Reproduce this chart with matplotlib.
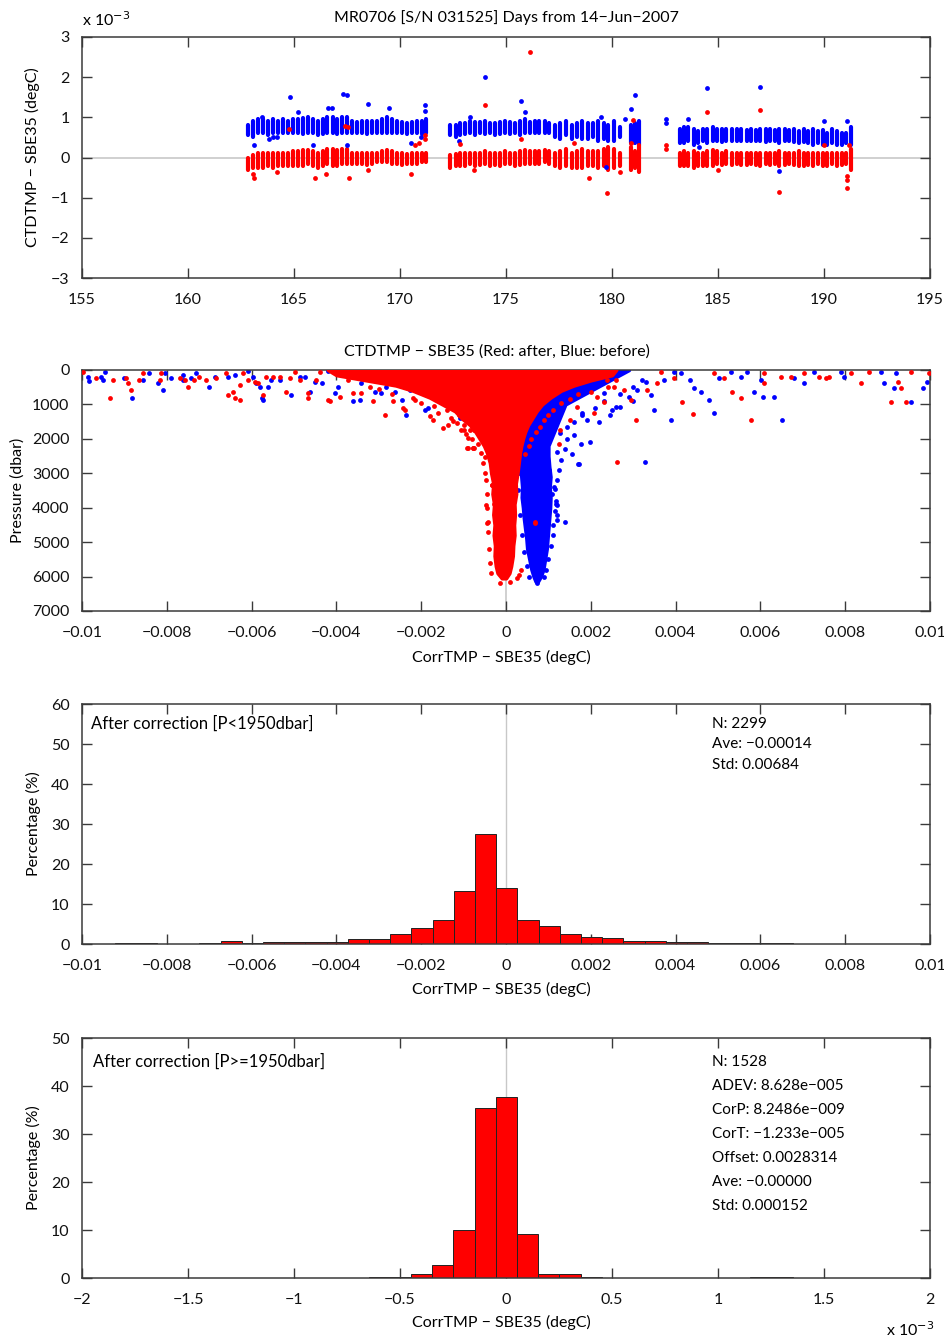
import numpy as np
import matplotlib
matplotlib.use('Agg')
import matplotlib.pyplot as plt

plt.rcParams['font.family'] = ['Lato', 'DejaVu Sans']
plt.rcParams['font.size'] = 11.5
plt.rcParams['axes.unicode_minus'] = True

RED = '#ff0000'
BLUE = '#0000ff'
AXC = '#3a3a3a'

# ---------------- Panel 1: station time series (units of 1e-3 degC) ----------------
days = [162.85, 163.08, 163.32, 163.55, 163.78, 164.02, 164.25, 164.48, 164.72, 164.95,
        165.18, 165.42, 165.65, 165.88, 166.12, 166.35, 166.58, 166.82, 167.05, 167.28,
        167.52, 167.75, 167.98, 168.22, 168.45, 168.68, 168.92, 169.15, 169.38, 169.62,
        169.85, 170.08, 170.32, 170.55, 170.78, 171.02, 171.22,
        172.38, 172.62, 172.85, 173.08, 173.32, 173.55, 173.78, 174.02, 174.25, 174.48,
        174.72, 174.95, 175.18, 175.42, 175.65, 175.88, 176.12, 176.35, 176.58, 176.82,
        177.05, 177.3, 177.55, 177.85, 178.1, 178.35, 178.6, 178.85, 179.1, 179.35,
        179.6, 179.8, 180.1, 180.4, 180.9, 181.1, 181.25,
        183.2, 183.4, 183.6, 183.85, 184.05, 184.3, 184.5, 184.75, 184.95, 185.2,
        185.4, 185.65, 185.9, 186.1, 186.35, 186.55, 186.8, 187.0, 187.25, 187.45,
        187.7, 187.9, 188.15, 188.35, 188.6, 188.8, 189.05, 189.25, 189.5, 189.7,
        189.95, 190.15, 190.4, 190.6, 190.85, 191.05, 191.25]
before_lo = [0.55, 0.5, 0.6, 0.6, 0.55, 0.6, 0.6, 0.6, 0.6, 0.62, 0.6, 0.58, 0.6, 0.6, 0.55, 0.58, 0.6, 0.6, 0.58, 0.6,
             0.62, 0.62, 0.6, 0.6, 0.58, 0.6, 0.62, 0.62, 0.6, 0.62, 0.6, 0.6, 0.58, 0.6, 0.6, 0.58, 0.6,
             0.55, 0.52, 0.55, 0.58, 0.6, 0.55, 0.6, 0.58, 0.6, 0.55, 0.58, 0.6, 0.58, 0.6, 0.55, 0.6, 0.62, 0.6, 0.6, 0.6,
             0.62, 0.5, 0.45, 0.55, 0.45, 0.5, 0.45, 0.45, 0.5, 0.42, 0.45, 0.4, 0.4, 0.5, 0.35, 0.35, 0.3,
             0.35, 0.35, 0.4, 0.3, 0.35, 0.4, 0.35, 0.4, 0.4, 0.38, 0.4, 0.4, 0.42, 0.4, 0.4, 0.42, 0.4, 0.4, 0.38, 0.4,
             0.4, 0.35, 0.4, 0.4, 0.38, 0.35, 0.38, 0.35, 0.3, 0.35, 0.3, 0.3, 0.35, 0.3, 0.32, 0.35, 0.3]
before_hi = [0.8, 0.9, 0.95, 0.95, 0.9, 0.95, 0.9, 0.95, 0.9, 0.95, 0.95, 0.98, 1.0, 0.95, 0.9, 0.95, 1.0, 1.0, 0.95, 1.0,
             1.0, 0.9, 0.88, 0.9, 0.9, 0.92, 0.9, 0.95, 1.0, 0.95, 0.9, 0.88, 0.85, 0.88, 0.9, 0.9, 0.95,
             0.8, 0.82, 0.85, 0.85, 0.9, 0.88, 0.88, 0.9, 0.85, 0.85, 0.88, 0.9, 0.88, 0.85, 0.92, 0.95, 0.88, 0.9, 0.9, 0.9,
             0.85, 0.8, 0.85, 0.9, 0.8, 0.85, 0.9, 0.85, 0.85, 0.9, 0.85, 0.8, 0.9, 0.75, 0.8, 0.85, 0.9,
             0.7, 0.75, 0.75, 0.72, 0.65, 0.7, 0.72, 0.75, 0.72, 0.7, 0.72, 0.7, 0.72, 0.7, 0.68, 0.7, 0.68, 0.72, 0.7, 0.7,
             0.68, 0.72, 0.7, 0.68, 0.7, 0.65, 0.7, 0.65, 0.7, 0.65, 0.68, 0.62, 0.7, 0.65, 0.62, 0.6, 0.75]
after_lo = [-0.3, -0.25, -0.25, -0.25, -0.22, -0.25, -0.2, -0.2, -0.2, -0.2, -0.22, -0.2, -0.15, -0.2, -0.25, -0.2, -0.15, -0.2, -0.2, -0.15,
            -0.15, -0.15, -0.15, -0.15, -0.18, -0.15, -0.12, -0.12, -0.1, -0.15, -0.15, -0.18, -0.15, -0.15, -0.15, -0.12, -0.12,
            -0.25, -0.22, -0.2, -0.2, -0.15, -0.2, -0.18, -0.15, -0.2, -0.18, -0.2, -0.15, -0.15, -0.2, -0.18, -0.15, -0.15, -0.15, -0.15, -0.12,
            -0.15, -0.2, -0.25, -0.2, -0.25, -0.25, -0.25, -0.2, -0.2, -0.25, -0.2, -0.3, -0.25, -0.2, -0.3, -0.25, -0.35,
            -0.2, -0.22, -0.2, -0.25, -0.2, -0.2, -0.22, -0.2, -0.15, -0.18, -0.15, -0.18, -0.15, -0.18, -0.18, -0.15, -0.18, -0.2, -0.15, -0.18,
            -0.15, -0.2, -0.18, -0.15, -0.18, -0.2, -0.2, -0.18, -0.2, -0.15, -0.2, -0.2, -0.15, -0.2, -0.18, -0.15, -0.3]
after_hi = [0.0, 0.05, 0.1, 0.12, 0.1, 0.1, 0.12, 0.12, 0.1, 0.15, 0.15, 0.18, 0.18, 0.15, 0.1, 0.15, 0.2, 0.22, 0.18, 0.2,
            0.22, 0.12, 0.1, 0.1, 0.1, 0.12, 0.1, 0.15, 0.18, 0.15, 0.12, 0.1, 0.08, 0.1, 0.1, 0.1, 0.12,
            0.05, 0.08, 0.1, 0.1, 0.12, 0.1, 0.12, 0.15, 0.12, 0.1, 0.12, 0.15, 0.12, 0.12, 0.15, 0.18, 0.15, 0.15, 0.15, 0.18,
            0.15, 0.1, 0.15, 0.2, 0.12, 0.15, 0.2, 0.15, 0.15, 0.15, 0.2, 0.25, 0.2, 0.1, 0.25, 0.15, 0.3,
            0.1, 0.15, 0.12, 0.15, 0.1, 0.12, 0.15, 0.18, 0.15, 0.12, 0.15, 0.12, 0.12, 0.1, 0.12, 0.12, 0.1, 0.12, 0.1, 0.12,
            0.12, 0.15, 0.1, 0.1, 0.12, 0.15, 0.12, 0.1, 0.1, 0.12, 0.12, 0.1, 0.1, 0.12, 0.1, 0.1, 0.2]
before_out_day = [164.8, 167.3, 167.5, 168.5, 169.5, 171.2, 171.2, 166.6, 166.8, 165.2, 163.1, 170.5, 171.0, 165.9,
                  167.5, 163.5, 164.2, 164.0, 163.8, 174.0, 175.7, 175.9, 181.1, 180.9, 182.55, 182.55, 184.5,
                  187.0, 179.7, 187.9, 191.1, 172.8, 173.3, 179.5, 180.6, 184.1, 183.6, 190.0]
before_out_val = [1.5, 1.58, 1.55, 1.33, 1.22, 1.3, 1.15, 1.22, 1.22, 1.13, 0.3, 0.35, 0.5, 0.3,
                  0.3, 1.0, 0.5, 0.5, 0.45, 2.0, 1.4, 1.13, 1.55, 1.2, 0.95, 0.85, 1.72,
                  1.75, -0.24, -0.33, 0.9, 0.4, 1.0, 1.0, 0.95, 0.25, 0.95, 0.9]
after_out_day = [176.15, 174.0, 184.5, 187.0, 179.75, 178.9, 187.9, 191.1, 191.1, 191.1, 191.2, 164.75, 167.4,
                 167.55, 163.1, 166.0, 167.6, 170.5, 171.2, 171.2, 170.9, 170.7, 172.83, 182.55, 182.55, 181.0,
                 180.9, 175.7, 163.05, 164.2, 166.5, 168.5, 173.5, 178.2, 180.4, 185.0, 190.0]
after_out_val = [2.63, 1.31, 1.13, 1.18, -0.88, -0.52, -0.85, -0.75, -0.55, -0.45, 0.3, 0.7, 0.78,
                 0.75, -0.52, -0.5, -0.5, -0.42, 0.46, 0.56, 0.35, 0.3, 0.34, 0.3, 0.2, 0.94,
                 0.35, 0.45, -0.4, -0.35, -0.4, -0.3, -0.3, 0.35, -0.35, -0.3, 0.3]

# ---------------- Panel 2: difference vs pressure (units of 1e-3 degC, dbar) ----------------
after_core_p = [0, 150, 300, 450, 600, 800, 1000, 1200, 1400, 1600, 1800, 2000, 2200, 2400, 2700,
                3000, 3300, 3600, 3900, 4200, 4500, 4800, 5100, 5400, 5700, 5900, 6050]
after_core_left = [-4.2, -4.0, -3.3, -2.6, -2.2, -1.8, -1.5, -1.2, -1.05, -0.85, -0.72, -0.62, -0.52, -0.45, -0.38,
                   -0.35, -0.3, -0.32, -0.28, -0.3, -0.27, -0.29, -0.26, -0.27, -0.24, -0.2, -0.1]
after_core_right = [2.6, 2.5, 2.0, 1.6, 1.3, 1.05, 0.85, 0.72, 0.62, 0.52, 0.45, 0.4, 0.36, 0.33, 0.3,
                    0.27, 0.23, 0.24, 0.2, 0.21, 0.19, 0.2, 0.17, 0.16, 0.12, 0.08, 0.0]
before_core_p = [0, 200, 400, 600, 800, 1000, 1300, 1600, 1900, 2200, 2500, 2800, 3100, 3400, 3700, 4000,
                 4300, 4600, 4900, 5200, 5500, 5800, 6000, 6150]
before_core_left = [-1.0, -0.5, -0.2, 0.0, 0.1, 0.2, 0.25, 0.3, 0.35, 0.38, 0.33, 0.35, 0.36, 0.38, 0.37, 0.4,
                    0.42, 0.45, 0.48, 0.5, 0.55, 0.6, 0.65, 0.7]
before_core_right = [2.9, 2.6, 2.3, 2.0, 1.7, 1.4, 1.3, 1.2, 1.1, 1.0, 1.0, 1.02, 1.05, 1.03, 1.05, 1.04,
                     1.02, 1.0, 0.98, 0.96, 0.92, 0.88, 0.82, 0.75]
before_pts_x = [-9.87, -9.83, -9.55, -9.51, -9.45, -9.0, -8.82, -8.57, -8.41, -8.21, -8.08, -8.04, -7.9, -7.62,
                -7.61, -7.43, -7.31, -7.01, -6.87, -6.56, -6.39, -6.09, -5.97, -5.89, -5.81, -5.76, -5.73, -5.61,
                -5.54, -5.34, -5.06, -4.87, -4.75, -4.63, -4.51, -4.35, -4.2, -4.04, -3.96, -3.61, -3.45, -3.41,
                -3.29, -3.09, -2.94, -2.82, -2.62, -2.46, -2.36, -2.27, -2.03, -1.91, -1.83, -1.72, -1.09,
                9.94, 9.83, 9.55, 9.16, 8.92, 9.2, 8.84, 7.9, 7.98, 7.27, 7.03, 6.8, 6.52, 6.31, 6.05, 5.85, 6.01,
                5.69, 5.54, 5.3, 5.02, 4.79, 4.91, 4.59, 4.43, 4.35, 4.12, 3.96, 3.88, 3.72, 3.49, 3.41, 3.29,
                3.21, 3.09, 2.9, 2.7, 2.5, 2.31, 1.99, 1.91, 1.76, 1.69, 1.56, 1.44, 1.28, 1.2, 1.4, 1.2, 1.17,
                1.13, 1.01, 0.98, 0.93, 0.72, 1.71, 1.2, 1.2, 1.08, 2.45, 2.6, 3.0, 2.2, 1.6, 1.8,
                1.3, 1.25, 1.2, 1.15, 1.18, 1.15, 1.12, 1.1, 1.05, 1.0, 0.95, 0.9, 1.6, 1.8, 2.1, 2.3, 2.7,
                3.0, 3.3, 1.45, 1.4, 0.3, 0.28, 0.32, 0.38, 0.42, 0.5, 0.55]
before_pts_p = [190, 310, 190, 290, 50, 240, 800, 290, 100, 385, 580, 100, 240, 145,
                290, 240, 80, 480, 190, 190, 145, 20, 190, 385, 480, 820, 880, 480,
                290, 290, 720, 190, 190, 625, 340, 385, 20, 670, 480, 890, 865, 385,
                50, 625, 670, 480, 625, 865, 1300, 580, 385, 1150, 1110, 290, 1400,
                340, 530, 920, 530, 390, 100, 50, 50, 190, 50, 390, 240, 1460, 780, 780, 630, 290,
                50, 190, 50, 240, 870, 1260, 630, 530, 290, 100, 50, 1460, 290, 1165, 730, 2670,
                290, 580, 780, 1070, 1165, 680, 2090, 1460, 2140, 2740, 2430, 1650, 1840, 2380, 4420, 4220, 3880,
                3400, 2910, 3690, 4850, 6190, 2730, 4360, 3920, 3600, 1310, 1080, 900, 1500, 1900, 1250,
                2600, 2900, 3200, 3450, 3800, 4100, 4500, 4800, 5100, 5500, 5800, 6000, 1500, 1300, 1100, 900, 700,
                500, 350, 2000, 2300, 3000, 3500, 4200, 4800, 5300, 5700, 6000]
after_pts_x = [-9.98, -9.67, -9.35, -9.28, -8.96, -8.92, -8.84, -8.65, -8.57, -8.13, -8.17, -7.7, -7.58, -7.5,
               -7.35, -7.23, -7.07, -6.83, -6.6, -6.56, -6.44, -6.4, -6.28, -6.27, -6.2, -6.09, -5.93, -5.85,
               -5.73, -5.65, -5.5, -5.34, -5.18, -5.1, -4.98, -4.87, -4.67, -4.67, -4.47, -4.38, -4.2, -4.16,
               -3.92, -3.84, -3.72, -3.61, -3.41, -3.33, -3.21, -3.13, -2.86, -2.82, -2.66, -2.43, -2.39, -2.15,
               -1.95, -1.8, -1.72, -1.48, -1.36, -1.24, -1.05, -1.0, -0.89, -0.93, -0.77,
               9.98, 9.55, 9.43, 9.08, 9.24, 9.31, 8.57, 8.37, 8.13, 7.54, 7.62, 7.39, 7.03, 6.72, 6.48, 6.09,
               6.09, 5.79, 5.54, 5.34, 5.14, 4.91, 4.41, 4.16, 3.96, 3.65, 3.57, 3.33, 3.06, 2.94, 2.78, 2.62,
               2.54, 2.39, 2.31, 2.15, 2.07, 1.68, 1.52, 1.28, 1.24, 0.69, -0.84, -0.76, -0.33, -0.45, -0.29,
               -0.46, -0.42, -0.34, -0.89, -0.77, -0.5, -0.14, 0.68,
               -3.0, -2.7, -2.5, -2.2, -2.0, -1.9, -1.7, -1.6, -1.5, -1.4, -1.3, -1.15, -1.1, -1.0, -0.95,
               -0.8, -0.75, -0.65, -0.6, -0.55, -0.5, -0.48, -0.45, -0.44, -0.42, -0.4, -0.38, -0.35,
               2.6, 2.4, 2.0, 1.7, 1.5, 1.3, 1.1, 1.0, 0.9, 0.8, 0.7, 0.6, 0.55, 0.45, 0.35, 0.3, 0.25, 0.1]
after_pts_p = [50, 240, 800, 290, 240, 385, 580, 290, 100, 100, 290, 240, 290, 480,
               290, 190, 290, 240, 100, 720, 625, 820, 430, 880, 100, 290, 340, 385,
               720, 190, 190, 190, 625, 240, 50, 290, 670, 820, 290, 50, 865, 890,
               770, 100, 290, 670, 670, 190, 480, 890, 1300, 385, 910, 1110, 1150, 865,
               625, 1350, 1440, 1680, 1590, 1490, 1730, 1730, 1970, 2260, 2260,
               100, 50, 920, 920, 340, 530, 50, 390, 100, 240, 190, 190, 100, 190, 190, 390,
               100, 1460, 810, 630, 240, 100, 1290, 920, 240, 50, 390, 580, 1460, 870, 580, 2670,
               490, 290, 920, 780, 1260, 1070, 1460, 1750, 2140, 4440, 1750, 2280, 3350, 4440, 3880,
               3920, 4410, 3340, 2270, 2270, 2520, 6190, 4410,
               550, 700, 420, 820, 950, 600, 1050, 1250, 900, 1150, 1380, 1550, 1300, 1600, 1850,
               2000, 1750, 2150, 2400, 2700, 3000, 3200, 3600, 4000, 4700, 5200, 5600, 5900,
               300, 480, 650, 700, 850, 950, 1150, 1300, 1450, 1650, 1800, 2000, 2200, 2450, 5800, 5950, 6050, 6150]

# ---------------- Panel 3: histogram P < 1950 dbar ----------------
h1_first_edge = -0.00923
h1_bin_width = 0.0005
h1_percent = [0.3, 0.2, 0.1, 0.05, 0.3, 0.8, 0.3, 0.6, 0.5, 0.5, 0.6, 1.3, 1.3, 2.4, 4.0, 6.0,
              13.2, 27.5, 14.1, 6.1, 4.6, 2.4, 1.8, 1.6, 0.8, 0.8, 0.4, 0.4, 0.2, 0.15, 0.2, 0.15,
              0.05, 0.05, 0.1, 0.05, 0.05, 0.05]
h1_stats = ['N: 2299', 'Ave: \u22120.00014', 'Std: 0.00684']

# ---------------- Panel 4: histogram P >= 1950 dbar (units of 1e-3 degC) ----------------
h2_first_edge = -0.948
h2_bin_width = 0.1
h2_percent = [0.1, 0.1, 0.0, 0.2, 0.3, 0.9, 2.7, 10.0, 35.4, 37.8, 9.2, 0.9, 0.8, 0.2, 0.1, 0.1,
              0.1, 0.0, 0.1, 0.1, 0.0, 0.15, 0.15]
h2_stats = ['N: 1528', 'ADEV: 8.628e\u2212005', 'CorP: 8.2486e\u2212009', 'CorT: \u22121.233e\u2212005',
            'Offset: 0.0028314', 'Ave: \u22120.00000', 'Std: 0.000152']

# ---------------- Figure ----------------
W, H = 944, 1338
fig = plt.figure(figsize=(W / 100, H / 100), dpi=100)


def axes_px(left, top, right, bottom):
    return fig.add_axes([left / W, 1 - bottom / H, (right - left) / W, (bottom - top) / H])


def style(ax):
    for s in ax.spines.values():
        s.set_color(AXC)
        s.set_linewidth(1.1)
    ax.tick_params(direction='in', top=True, right=True, length=7, width=1.0,
                   color=AXC, labelcolor='#111111', labelsize=11.5)
    ax.tick_params(axis='x', pad=11)
    ax.tick_params(axis='y', pad=9)


def ftext(x, y, s, **kw):
    fig.text(x / W, 1 - y / H, s, **kw)


def mlabels(vals, fmt):
    return [fmt(v).replace('-', '\u2212') for v in vals]


# Panel 1
ax1 = axes_px(82, 37, 930, 278)
style(ax1)
ax1.axhline(0, color='#c8c8c8', linewidth=1.2, zorder=0)
lc = ax1.vlines(days, before_lo, before_hi, colors=BLUE, linewidth=3.0, zorder=2)
lc.set_capstyle('round')
lc = ax1.vlines(days, after_lo, after_hi, colors=RED, linewidth=3.0, zorder=2)
lc.set_capstyle('round')
ax1.scatter(before_out_day, before_out_val, s=12, c=BLUE, linewidths=0, zorder=3)
ax1.scatter(after_out_day, after_out_val, s=12, c=RED, linewidths=0, zorder=3)
ax1.set_xlim(155, 195)
ax1.set_ylim(-3, 3)
ax1.set_xticks(range(155, 196, 5))
ax1.set_yticks(range(-3, 4))
ax1.set_yticklabels(mlabels(range(-3, 4), lambda v: '%d' % v))
ax1.set_ylabel('CTDTMP \u2212 SBE35 (degC)', fontsize=11.5)
ax1.yaxis.set_label_coords(-0.05, 0.5)
ftext(506, 18, 'MR0706 [S/N 031525] Days from 14\u2212Jun\u22122007', ha='center', va='center', fontsize=11.5)
ftext(82, 20, 'x 10$^{\u22123}$', ha='left', va='center', fontsize=11.5)

# Panel 2
ax2 = axes_px(82, 370, 930, 611)
style(ax2)
ax2.axvline(0, color='#c8c8c8', linewidth=1.2, zorder=0)
sc = 1e-3
ax2.fill_betweenx(before_core_p, np.array(before_core_left) * sc, np.array(before_core_right) * sc,
                  facecolor=BLUE, edgecolor=BLUE, linewidth=2.5, joinstyle='round', zorder=2)
ax2.scatter(np.array(before_pts_x) * sc, before_pts_p, s=12, c=BLUE, linewidths=0, zorder=2)
ax2.fill_betweenx(after_core_p, np.array(after_core_left) * sc, np.array(after_core_right) * sc,
                  facecolor=RED, edgecolor=RED, linewidth=2.5, joinstyle='round', zorder=3)
ax2.scatter(np.array(after_pts_x) * sc, after_pts_p, s=12, c=RED, linewidths=0, zorder=3)
ax2.set_xlim(-0.01, 0.01)
ax2.set_ylim(7000, 0)
xt = [-0.01, -0.008, -0.006, -0.004, -0.002, 0, 0.002, 0.004, 0.006, 0.008, 0.01]
xtl = ['\u22120.01', '\u22120.008', '\u22120.006', '\u22120.004', '\u22120.002', '0',
       '0.002', '0.004', '0.006', '0.008', '0.01']
ax2.set_xticks(xt)
ax2.set_xticklabels(xtl)
ax2.set_yticks(range(0, 7001, 1000))
ax2.set_ylabel('Pressure (dbar)', fontsize=11.5)
ax2.yaxis.set_label_coords(-0.068, 0.5)
ftext(497, 352, 'CTDTMP \u2212 SBE35 (Red: after, Blue: before)', ha='center', va='center', fontsize=11.5)
ftext(501, 657, 'CorrTMP \u2212 SBE35 (degC)', ha='center', va='center', fontsize=11.5)

# Panel 3
ax3 = axes_px(82, 704, 930, 944)
style(ax3)
ax3.axvline(0, color='#c8c8c8', linewidth=1.0, zorder=0)
e1 = h1_first_edge + h1_bin_width * np.arange(len(h1_percent))
ax3.bar(e1, h1_percent, width=h1_bin_width, align='edge', color=RED, edgecolor='#222222',
        linewidth=0.7, zorder=2)
ax3.set_xlim(-0.01, 0.01)
ax3.set_ylim(0, 60)
ax3.set_xticks(xt)
ax3.set_xticklabels(xtl)
ax3.set_yticks(range(0, 61, 10))
ax3.set_ylabel('Percentage (%)', fontsize=11.5)
ax3.yaxis.set_label_coords(-0.048, 0.5)
ftext(91, 724, 'After correction [P<1950dbar]', ha='left', va='center', fontsize=12)
for i, s in enumerate(h1_stats):
    ftext(712, 724 + 20.5 * i, s, ha='left', va='center', fontsize=11)
ftext(501, 989, 'CorrTMP \u2212 SBE35 (degC)', ha='center', va='center', fontsize=11.5)

# Panel 4
ax4 = axes_px(82, 1038, 930, 1278)
style(ax4)
ax4.axvline(0, color='#c8c8c8', linewidth=1.0, zorder=0)
e2 = h2_first_edge + h2_bin_width * np.arange(len(h2_percent))
ax4.bar(e2, h2_percent, width=h2_bin_width, align='edge', color=RED, edgecolor='#222222',
        linewidth=0.7, zorder=2)
ax4.set_xlim(-2, 2)
ax4.set_ylim(0, 50)
x4 = [-2, -1.5, -1, -0.5, 0, 0.5, 1, 1.5, 2]
ax4.set_xticks(x4)
ax4.set_xticklabels(mlabels(x4, lambda v: ('%g' % v)))
ax4.set_yticks(range(0, 51, 10))
ax4.set_ylabel('Percentage (%)', fontsize=11.5)
ax4.yaxis.set_label_coords(-0.048, 0.5)
ftext(93, 1062, 'After correction [P>=1950dbar]', ha='left', va='center', fontsize=12)
for i, s in enumerate(h2_stats):
    ftext(712, 1062 + 24 * i, s, ha='left', va='center', fontsize=11)
ftext(501, 1322, 'CorrTMP \u2212 SBE35 (degC)', ha='center', va='center', fontsize=11.5)
ftext(886, 1330, 'x 10$^{\u22123}$', ha='left', va='center', fontsize=11.5)

fig.savefig('out.png', dpi=100)
